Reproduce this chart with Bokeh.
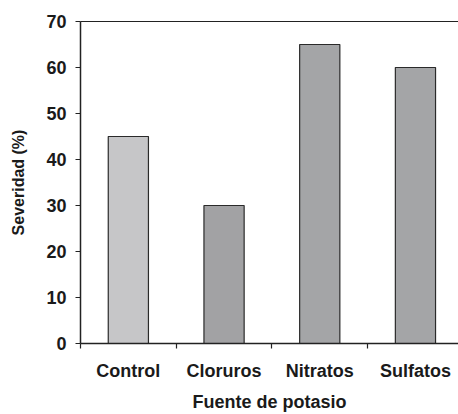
from bokeh.plotting import figure
from bokeh.models import Range1d, FixedTicker, LinearAxis, ColumnDataSource
from bokeh.embed import file_html
from bokeh.resources import INLINE

categories = ["Control", "Cloruros", "Nitratos", "Sulfatos"]
severidad = [45, 30, 65, 60]
colors = ["#c6c6c8", "#a2a2a4", "#a4a5a7", "#a4a5a7"]
y_ticks = [0, 10, 20, 30, 40, 50, 60, 70]

xpos = [i + 0.5 for i in range(len(categories))]
src = ColumnDataSource(dict(x=xpos, top=severidad, color=colors))

FONT = "Liberation Sans"

p = figure(width=458, height=414, output_backend="svg", toolbar_location=None,
           x_range=Range1d(0, 378 / 95.7), y_range=Range1d(0, 70),
           min_border_left=80, min_border_right=0, min_border_top=21, min_border_bottom=69)
p.outline_line_color = None
p.grid.grid_line_color = None
p.background_fill_color = "white"
p.border_fill_color = "white"

p.vbar(x="x", top="top", width=0.42, bottom=0, fill_color="color",
       line_color="#2a2a2a", line_width=1.2, source=src)

# x axis
xa = p.xaxis[0]
xa.ticker = FixedTicker(ticks=xpos, minor_ticks=[0, 1, 2, 3, 4])
xa.major_label_overrides = {x: c for x, c in zip(xpos, categories)}
xa.major_tick_line_color = None
xa.minor_tick_in = 0
xa.minor_tick_out = 5
xa.minor_tick_line_color = "#222222"
xa.minor_tick_line_width = 1.2
xa.axis_line_color = "#222222"
xa.axis_line_width = 1.5
xa.major_label_text_font = FONT
xa.major_label_text_font_style = "bold"
xa.major_label_text_font_size = "18px"
xa.major_label_text_color = "#1a1a1a"
xa.major_label_standoff = 11
xa.axis_label = "Fuente de potasio"
xa.axis_label_text_font = FONT
xa.axis_label_text_font_style = "bold"
xa.axis_label_text_font_size = "18px"
xa.axis_label_text_color = "#1a1a1a"
xa.axis_label_standoff = 8

# y axis
ya = p.yaxis[0]
ya.ticker = FixedTicker(ticks=y_ticks)
ya.minor_tick_line_color = None
ya.major_tick_in = 0
ya.major_tick_out = 5
ya.major_tick_line_color = "#222222"
ya.major_tick_line_width = 1.2
ya.axis_line_color = "#222222"
ya.axis_line_width = 1.5
ya.major_label_text_font = FONT
ya.major_label_text_font_style = "bold"
ya.major_label_text_font_size = "18px"
ya.major_label_text_color = "#1a1a1a"
ya.major_label_standoff = 9
ya.axis_label = "Severidad (%)"
ya.axis_label_text_font = FONT
ya.axis_label_text_font_style = "bold"
ya.axis_label_text_font_size = "16px"
ya.axis_label_text_color = "#1a1a1a"
ya.axis_label_standoff = 16

# top line of frame
top = LinearAxis(ticker=FixedTicker(ticks=[]), major_label_text_font_size="0px",
                 major_tick_line_color=None, minor_tick_line_color=None,
                 axis_line_color="#222222", axis_line_width=1.2)
p.add_layout(top, "above")

open("out.html", "w").write(file_html(p, INLINE))
